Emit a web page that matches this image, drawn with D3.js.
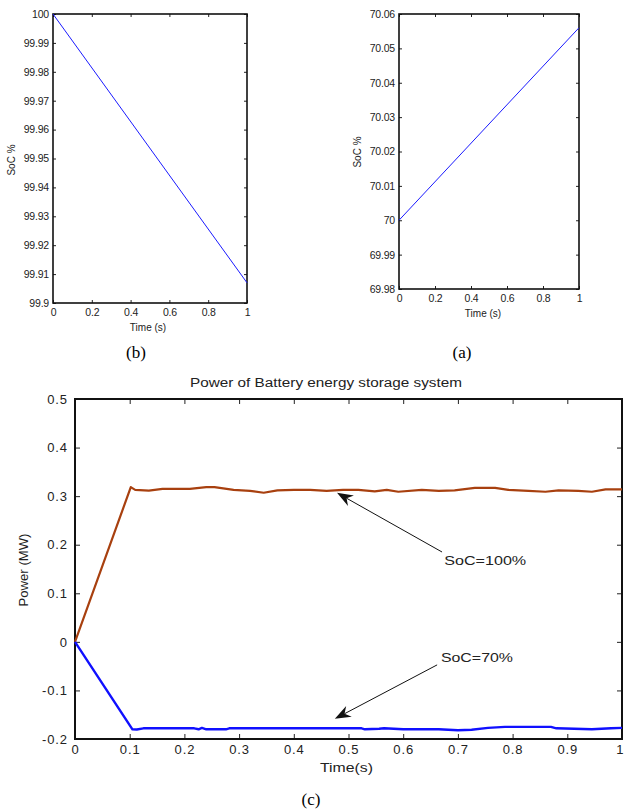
<!DOCTYPE html>
<html><head><meta charset="utf-8">
<script src="https://cdn.jsdelivr.net/npm/d3@7"></script>
<style>body{margin:0;background:#fff}svg{display:block}text{font-family:"Liberation Sans",Arial,sans-serif}</style>
</head><body>
<script>
// ---- data ----
const timeB = [0, 1];
const socB = [100, 99.907];
const timeA = [0, 1];
const socA = [70.0, 70.056];
const ticksB = [99.9, 99.91, 99.92, 99.93, 99.94, 99.95, 99.96, 99.97, 99.98, 99.99, 100];
const ticksA = [69.98, 69.99, 70, 70.01, 70.02, 70.03, 70.04, 70.05, 70.06];
const ticksSmallX = [0, 0.2, 0.4, 0.6, 0.8, 1];
const timeC100 = [0,0.102,0.11,0.135,0.16,0.21,0.24,0.255,0.29,0.32,0.345,0.37,0.40,0.43,0.46,0.49,0.518,0.548,0.57,0.591,0.634,0.665,0.694,0.731,0.768,0.792,0.829,0.86,0.884,0.92,0.945,0.97,1.0];
const powC100 = [0,0.3185,0.313,0.3115,0.315,0.315,0.3185,0.3185,0.313,0.311,0.307,0.312,0.313,0.313,0.311,0.313,0.313,0.310,0.313,0.309,0.313,0.311,0.312,0.317,0.317,0.313,0.311,0.309,0.312,0.311,0.309,0.314,0.314];
const timeC70 = [0,0.105,0.113,0.125,0.218,0.226,0.232,0.24,0.276,0.282,0.524,0.53,0.556,0.565,0.6,0.665,0.7,0.725,0.755,0.786,0.87,0.88,0.945,0.98,1.0];
const powC70 = [0,-0.18,-0.1805,-0.178,-0.178,-0.18,-0.177,-0.18,-0.18,-0.178,-0.178,-0.18,-0.179,-0.178,-0.18,-0.18,-0.182,-0.181,-0.177,-0.175,-0.175,-0.178,-0.18,-0.178,-0.177];
const ticksCX = [0,0.1,0.2,0.3,0.4,0.5,0.6,0.7,0.8,0.9,1];
const ticksCY = [-0.2,-0.1,0,0.1,0.2,0.3,0.4,0.5];
const annotations = [
  {label:"SoC=100%", tip:[0.479,0.3068], tail:[0.671,0.185], text:[0.675,0.1585]},
  {label:"SoC=70%", tip:[0.475,-0.1585], tail:[0.662,-0.0474], text:[0.669,-0.0412]}
];

const svg = d3.select("body").append("svg").attr("width",624).attr("height",809);

function fmt(v){ return String(+v.toFixed(4)); }

function panel(o){
  const x = d3.scaleLinear().domain(o.xd).range([o.x0,o.x1]);
  const y = d3.scaleLinear().domain(o.yd).range([o.y1,o.y0]);
  const g = svg.append("g");
  const fs = o.fs;
  const bot = g.append("g").attr("transform",`translate(0,${o.y1})`)
    .call(d3.axisBottom(x).tickValues(o.xt).tickSizeInner(-o.tl).tickSizeOuter(0).tickPadding(o.xpad).tickFormat(fmt));
  const top = g.append("g").attr("transform",`translate(0,${o.y0})`)
    .call(d3.axisTop(x).tickValues(o.xt).tickSizeInner(-o.tl).tickSizeOuter(0).tickFormat(""));
  const lef = g.append("g").attr("transform",`translate(${o.x0},0)`)
    .call(d3.axisLeft(y).tickValues(o.yt).tickSizeInner(-o.tl).tickSizeOuter(0).tickPadding(o.ypad).tickFormat(fmt));
  const rig = g.append("g").attr("transform",`translate(${o.x1},0)`)
    .call(d3.axisRight(y).tickValues(o.yt).tickSizeInner(-o.tl).tickSizeOuter(0).tickFormat(""));
  [bot,top,lef,rig].forEach(a=>{
    a.selectAll(".domain").remove();
    a.selectAll(".tick line").attr("stroke","#222").attr("stroke-width",1);
    a.selectAll("text").attr("font-size",fs).attr("fill","#222")
      .style("font-family",'"Liberation Sans",Arial,sans-serif').attr("letter-spacing",o.ls||0);
  });
  g.append("rect").attr("x",o.x0).attr("y",o.y0).attr("width",o.x1-o.x0).attr("height",o.y1-o.y0)
    .attr("fill","none").attr("stroke","#111").attr("stroke-width",o.fw);
  return {x,y,g,bot};
}

const serif = '"Liberation Serif","Times New Roman",serif';

// ---- panel (b) ----
const pb = panel({x0:53,x1:247,y0:14,y1:303,xd:[0,1],yd:[99.9,100],xt:ticksSmallX,yt:ticksB,tl:3,fs:10.5,xpad:6,ypad:4,fw:1.6,ls:-0.2});
pb.g.append("path").datum(timeB.map((t,i)=>[t,socB[i]]))
  .attr("d",d3.line().x(d=>pb.x(d[0])).y(d=>pb.y(d[1]))).attr("fill","none").attr("stroke","#1a1aff").attr("stroke-width",1);
pb.g.append("text").attr("x",148).attr("y",331).attr("text-anchor","middle").attr("font-size",10).attr("fill","#222").text("Time (s)");
pb.g.append("text").attr("transform","translate(15,160) rotate(-90)").attr("text-anchor","middle").attr("font-size",10).attr("fill","#222").text("SoC %");

// ---- panel (a) ----
const pa = panel({x0:399,x1:579,y0:14,y1:289,xd:[0,1],yd:[69.98,70.06],xt:ticksSmallX,yt:ticksA,tl:3,fs:10.5,xpad:6,ypad:4,fw:1.6,ls:-0.2});
pa.g.append("path").datum(timeA.map((t,i)=>[t,socA[i]]))
  .attr("d",d3.line().x(d=>pa.x(d[0])).y(d=>pa.y(d[1]))).attr("fill","none").attr("stroke","#1a1aff").attr("stroke-width",1);
pa.g.append("text").attr("x",483).attr("y",317).attr("text-anchor","middle").attr("font-size",10).attr("fill","#222").text("Time (s)");
pa.g.append("text").attr("transform","translate(361,152) rotate(-90)").attr("text-anchor","middle").attr("font-size",10).attr("fill","#222").text("SoC %");

// captions
svg.append("text").attr("x",136).attr("y",358).attr("text-anchor","middle").attr("font-size",17).style("font-family",serif).text("(b)");
svg.append("text").attr("x",462).attr("y",358).attr("text-anchor","middle").attr("font-size",17).style("font-family",serif).text("(a)");
svg.append("text").attr("x",311).attr("y",805).attr("text-anchor","middle").attr("font-size",17).style("font-family",serif).text("(c)");

// ---- panel (c) ----
const pc = panel({x0:75,x1:622,y0:399,y1:739,xd:[0,1],yd:[-0.2,0.5],xt:ticksCX,yt:ticksCY,tl:5,fs:13,xpad:6,ypad:7,fw:2,ls:0.9});
// keep the last x tick label inside the page
pc.bot.selectAll(".tick text").filter(d=>d===1).attr("text-anchor","end").attr("letter-spacing",0).attr("dx",1);
const lineC = d3.line().x(d=>pc.x(d[0])).y(d=>pc.y(d[1]));
pc.g.append("path").datum(timeC100.map((t,i)=>[t,powC100[i]])).attr("d",lineC)
  .attr("fill","none").attr("stroke","#a8400f").attr("stroke-width",2.2).attr("stroke-linejoin","round");
pc.g.append("path").datum(timeC70.map((t,i)=>[t,powC70[i]])).attr("d",lineC)
  .attr("fill","none").attr("stroke","#1010ff").attr("stroke-width",2.4).attr("stroke-linejoin","round");
svg.append("text").attr("x",326).attr("y",387).attr("text-anchor","middle").attr("font-size",12.5)
  .attr("textLength",272).attr("lengthAdjust","spacingAndGlyphs").attr("fill","#222").text("Power of Battery energy storage system");
svg.append("text").attr("x",346.5).attr("y",772).attr("text-anchor","middle").attr("font-size",13)
  .attr("textLength",53).attr("lengthAdjust","spacingAndGlyphs").attr("fill","#222").text("Time(s)");
svg.append("text").attr("transform","translate(28,570) rotate(-90)").attr("text-anchor","middle").attr("font-size",12.5)
  .attr("textLength",73).attr("lengthAdjust","spacingAndGlyphs").attr("fill","#222").text("Power (MW)");

// annotations
annotations.forEach(a=>{
  const tx = pc.x(a.tip[0]), ty = pc.y(a.tip[1]);
  const sx = pc.x(a.tail[0]), sy = pc.y(a.tail[1]);
  const ang = Math.atan2(ty-sy, tx-sx);
  const L = 16, W = 6, back = 11;
  pc.g.append("line").attr("x1",sx).attr("y1",sy).attr("x2",tx-Math.cos(ang)*back).attr("y2",ty-Math.sin(ang)*back)
    .attr("stroke","#111").attr("stroke-width",1);
  const ux = Math.cos(ang), uy = Math.sin(ang), px = -uy, py = ux;
  const p = [[tx,ty],[tx-ux*L+px*W, ty-uy*L+py*W],[tx-ux*back, ty-uy*back],[tx-ux*L-px*W, ty-uy*L-py*W]];
  pc.g.append("path").attr("d","M"+p.map(q=>q.join(",")).join("L")+"Z").attr("fill","#111");
  pc.g.append("text").attr("x",pc.x(a.text[0])).attr("y",pc.y(a.text[1])).attr("font-size",13)
    .attr("textLength",a.label.length===8?82:72).attr("lengthAdjust","spacingAndGlyphs").attr("fill","#222").text(a.label);
});
</script>
</body></html>
